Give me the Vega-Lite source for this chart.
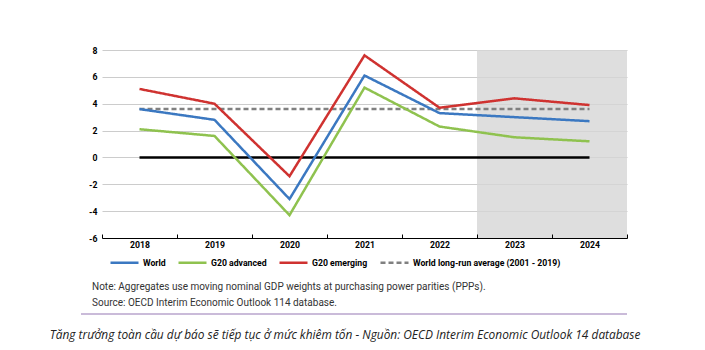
{
  "$schema": "https://vega.github.io/schema/vega-lite/v6.json",
  "width": 525,
  "height": 188,
  "autosize": {"type": "none"},
  "padding": {"left": 102, "top": 50, "right": 78, "bottom": 112},
  "background": "white",
  "config": {
    "view": {"stroke": null},
    "font": "Roboto",
    "axis": {"labelFont": "Roboto", "labelFontWeight": "bold", "labelFontSize": 8.7, "labelColor": "#000000"}
  },
  "datasets": {
    "series": [
      {"year": "2018", "series": "World long-run average (2001 - 2019)", "value": 3.6},
      {"year": "2019", "series": "World long-run average (2001 - 2019)", "value": 3.6},
      {"year": "2020", "series": "World long-run average (2001 - 2019)", "value": 3.6},
      {"year": "2021", "series": "World long-run average (2001 - 2019)", "value": 3.6},
      {"year": "2022", "series": "World long-run average (2001 - 2019)", "value": 3.6},
      {"year": "2023", "series": "World long-run average (2001 - 2019)", "value": 3.6},
      {"year": "2024", "series": "World long-run average (2001 - 2019)", "value": 3.6},
      {"year": "2018", "series": "G20 advanced", "value": 2.1},
      {"year": "2019", "series": "G20 advanced", "value": 1.6},
      {"year": "2020", "series": "G20 advanced", "value": -4.3},
      {"year": "2021", "series": "G20 advanced", "value": 5.2},
      {"year": "2022", "series": "G20 advanced", "value": 2.3},
      {"year": "2023", "series": "G20 advanced", "value": 1.5},
      {"year": "2024", "series": "G20 advanced", "value": 1.2},
      {"year": "2018", "series": "World", "value": 3.6},
      {"year": "2019", "series": "World", "value": 2.8},
      {"year": "2020", "series": "World", "value": -3.1},
      {"year": "2021", "series": "World", "value": 6.1},
      {"year": "2022", "series": "World", "value": 3.3},
      {"year": "2023", "series": "World", "value": 3.0},
      {"year": "2024", "series": "World", "value": 2.7},
      {"year": "2018", "series": "G20 emerging", "value": 5.1},
      {"year": "2019", "series": "G20 emerging", "value": 4.0},
      {"year": "2020", "series": "G20 emerging", "value": -1.4},
      {"year": "2021", "series": "G20 emerging", "value": 7.6},
      {"year": "2022", "series": "G20 emerging", "value": 3.7},
      {"year": "2023", "series": "G20 emerging", "value": 4.4},
      {"year": "2024", "series": "G20 emerging", "value": 3.9}
    ],
    "shade": [{"year": "2023"}, {"year": "2024"}],
    "zero": [{"year": "2018", "value": 0}, {"year": "2024", "value": 0}],
    "one": [{"k": 1}]
  },
  "layer": [
    {
      "layer": [
        {
          "data": {"name": "shade"},
          "mark": {"type": "rect", "color": "#d6d6d6", "opacity": 0.8},
          "encoding": {
            "x": {"field": "year", "type": "ordinal", "scale": {"type": "band", "domain": ["2018", "2019", "2020", "2021", "2022", "2023", "2024"], "paddingInner": 0, "paddingOuter": 0},
              "axis": {"title": null, "tickBand": "extent", "labelAngle": 0, "domainColor": "#000000", "domainWidth": 1, "tickColor": "#000000", "tickSize": -4, "labelPadding": 6, "grid": false}},
            "y": {"datum": 8, "type": "quantitative", "scale": {"domain": [-6, 8], "nice": false},
              "axis": {"title": null, "values": [-6, -4, -2, 0, 2, 4, 6, 8], "labelExpr": "'' + datum.value", "labelOverlap": false, "labelFlush": false, "domain": false, "ticks": false, "grid": true, "labelPadding": 5, "gridColor": "#cccccc", "gridWidth": 1}},
            "y2": {"datum": -6}
          }
        },
        {
          "data": {"name": "zero"},
          "mark": {"type": "line", "color": "#000000", "strokeWidth": 2.5},
          "encoding": {
            "x": {"field": "year", "type": "ordinal", "bandPosition": 0.5, "scale": {"type": "band", "domain": ["2018", "2019", "2020", "2021", "2022", "2023", "2024"], "paddingInner": 0, "paddingOuter": 0},
              "axis": {"title": null, "tickBand": "extent", "labelAngle": 0, "domainColor": "#000000", "domainWidth": 1, "tickColor": "#000000", "tickSize": -4, "labelPadding": 6, "grid": false}},
            "y": {"field": "value", "type": "quantitative",
              "axis": {"title": null, "values": [-6, -4, -2, 0, 2, 4, 6, 8], "labelExpr": "'' + datum.value", "labelOverlap": false, "labelFlush": false, "domain": false, "ticks": false, "grid": true, "labelPadding": 5, "gridColor": "#cccccc", "gridWidth": 1}}
          }
        },
        {
          "data": {"name": "series"},
          "mark": {"type": "line"},
          "encoding": {
            "x": {
              "field": "year", "type": "ordinal", "bandPosition": 0.5,
              "scale": {"type": "band", "domain": ["2018", "2019", "2020", "2021", "2022", "2023", "2024"], "paddingInner": 0, "paddingOuter": 0},
              "axis": {"title": null, "tickBand": "extent", "labelAngle": 0, "domainColor": "#000000", "domainWidth": 1, "tickColor": "#000000", "tickSize": -4, "labelPadding": 6, "grid": false}
            },
            "y": {
              "field": "value", "type": "quantitative",
              "scale": {"domain": [-6, 8], "nice": false},
              "axis": {"title": null, "values": [-6, -4, -2, 0, 2, 4, 6, 8], "labelExpr": "'' + datum.value", "labelOverlap": false, "labelFlush": false, "domain": false, "ticks": false, "grid": true, "labelPadding": 5, "gridColor": "#cccccc", "gridWidth": 1}
            },
            "color": {
              "field": "series", "type": "nominal",
              "scale": {"domain": ["World", "G20 advanced", "G20 emerging", "World long-run average (2001 - 2019)"], "range": ["#3b78c1", "#8fc24f", "#cf3230", "#808080"]},
              "legend": {"title": null, "orient": "none", "legendX": 7, "legendY": 197, "direction": "horizontal", "columns": 4, "symbolType": "stroke", "symbolSize": 784, "symbolStrokeWidth": 2.5, "labelFont": "Roboto", "labelFontWeight": "bold", "labelFontSize": 8.7, "labelColor": "#000000", "labelOffset": 3, "labelLimit": 400, "columnPadding": 7}
            },
            "strokeDash": {
              "field": "series", "type": "nominal",
              "scale": {"domain": ["World", "G20 advanced", "G20 emerging", "World long-run average (2001 - 2019)"], "range": [[1, 0], [1, 0], [1, 0], [5, 3]]}
            },
            "strokeWidth": {
              "field": "series", "type": "nominal",
              "scale": {"domain": ["World", "G20 advanced", "G20 emerging", "World long-run average (2001 - 2019)"], "range": [2.5, 2.5, 2.5, 2]}
            }
          }
        }
      ]
    },
    {
      "data": {"name": "one"},
      "layer": [
        {
          "mark": {"type": "rule", "color": "#b9a5cc", "strokeWidth": 1.5},
          "encoding": {
            "x": {"datum": -0.04, "type": "quantitative", "scale": {"domain": [0, 1], "nice": false, "zero": false}, "axis": null},
            "x2": {"datum": 1.0},
            "y": {"datum": -11.66, "type": "quantitative",
              "axis": {"title": null, "values": [-6, -4, -2, 0, 2, 4, 6, 8], "labelExpr": "'' + datum.value", "labelOverlap": false, "labelFlush": false, "domain": false, "ticks": false, "grid": true, "labelPadding": 5, "gridColor": "#cccccc", "gridWidth": 1}}
          }
        },
        {
          "mark": {"type": "text", "align": "left", "baseline": "middle", "font": "Roboto", "fontSize": 10, "color": "#333333", "text": "Note: Aggregates use moving nominal GDP weights at purchasing power parities (PPPs)."},
          "encoding": {
            "x": {"datum": -0.019, "type": "quantitative", "scale": {"domain": [0, 1], "nice": false, "zero": false}, "axis": null},
            "y": {"datum": -9.65, "type": "quantitative",
              "axis": {"title": null, "values": [-6, -4, -2, 0, 2, 4, 6, 8], "labelExpr": "'' + datum.value", "labelOverlap": false, "labelFlush": false, "domain": false, "ticks": false, "grid": true, "labelPadding": 5, "gridColor": "#cccccc", "gridWidth": 1}}
          }
        },
        {
          "mark": {"type": "text", "align": "left", "baseline": "middle", "font": "Roboto", "fontSize": 10, "color": "#333333", "text": "Source: OECD Interim Economic Outlook 114 database."},
          "encoding": {
            "x": {"datum": -0.019, "type": "quantitative", "scale": {"domain": [0, 1], "nice": false, "zero": false}, "axis": null},
            "y": {"datum": -10.84, "type": "quantitative",
              "axis": {"title": null, "values": [-6, -4, -2, 0, 2, 4, 6, 8], "labelExpr": "'' + datum.value", "labelOverlap": false, "labelFlush": false, "domain": false, "ticks": false, "grid": true, "labelPadding": 5, "gridColor": "#cccccc", "gridWidth": 1}}
          }
        },
        {
          "mark": {"type": "text", "align": "center", "baseline": "middle", "font": "Open Sans", "fontStyle": "italic", "fontSize": 11.9, "color": "#222222", "text": "Tăng trưởng toàn cầu dự báo sẽ tiếp tục ở mức khiêm tốn - Nguồn: OECD Interim Economic Outlook 14 database"},
          "encoding": {
            "x": {"datum": 0.463, "type": "quantitative", "scale": {"domain": [0, 1], "nice": false, "zero": false}, "axis": null},
            "y": {"datum": -13.2, "type": "quantitative",
              "axis": {"title": null, "values": [-6, -4, -2, 0, 2, 4, 6, 8], "labelExpr": "'' + datum.value", "labelOverlap": false, "labelFlush": false, "domain": false, "ticks": false, "grid": true, "labelPadding": 5, "gridColor": "#cccccc", "gridWidth": 1}}
          }
        }
      ]
    }
  ],
  "resolve": {"scale": {"x": "independent"}}
}
